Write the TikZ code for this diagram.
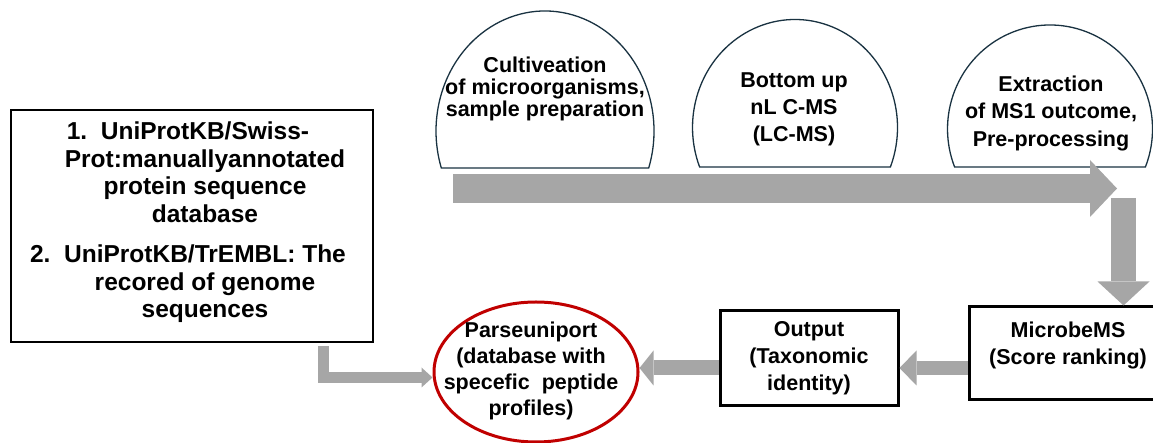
\documentclass[tikz,border=0pt]{standalone}
\usepackage{fontspec}
\setmainfont{Liberation Sans}
\usetikzlibrary{arrows.meta,shapes.geometric}
\definecolor{arrgray}{RGB}{166,166,166}
\definecolor{domeline}{RGB}{25,50,65}
\definecolor{ellred}{RGB}{192,0,0}
\begin{document}
\begin{tikzpicture}[x=1pt,y=1pt,
  arr/.style={draw=arrgray, color=arrgray, line join=miter},
  blk/.style={draw=black, line width=3pt, fill=white},
  dome/.style={draw=domeline, line width=1.3pt, fill=white},
  txt/.style={font=\bfseries\fontsize{21.5}{27}\selectfont, align=center, inner sep=0pt},
]
\useasboundingbox (0,0) rectangle (1153,443);
\clip (0,0) rectangle (1153,443);

% domes
\draw[dome] (545,312) ++(-17.95:109pt and 120pt) arc[start angle=-17.95,end angle=197.95,x radius=109pt,y radius=120pt] -- cycle;
\draw[dome] (795,315.5) ++(-21.46:102.5pt and 108pt) arc[start angle=-21.46,end angle=201.46,x radius=102.5pt,y radius=108pt] -- cycle;
\draw[dome] (1050,314) ++(-21.43:102.5pt and 104pt) arc[start angle=-21.43,end angle=201.43,x radius=102.5pt,y radius=104pt] -- cycle;

\node[txt, font=\bfseries\fontsize{21.5}{22}\selectfont] (cult) at (545,354) {Cultiveation\\of microorganisms,\\sample preparation};
\node[txt] (lcms) at (794,333.5) {Bottom up\\nL C-MS\\(LC-MS)};
\node[txt, font=\bfseries\fontsize{21.5}{27.5}\selectfont] (extr) at (1051,330) {Extraction\\of MS1 outcome,\\Pre-processing};

% timeline arrow
\coordinate (tlA) at (453,254.5);
\coordinate (tlB) at (1117,254.5);
\draw[arr, line width=29pt, -{Triangle[width=57pt,length=27pt,line width=0pt]}] (tlA) -- (tlB);

% boxes
\node[blk, line width=2.5pt, minimum width=362pt, minimum height=232pt] (db) at (192,217) {};
\node[txt, font=\bfseries\fontsize{24.5}{27.5}\selectfont] (dbtext) at (205,220.5)
  {\llap{1.\ \ }UniProtKB/Swiss-\\Prot:manuallyannotated\\protein sequence\\database\\[13pt]\llap{2.\ \ }UniProtKB/TrEMBL: The\\recored of genome\\sequences};

\node[blk, txt, line width=3pt, minimum width=178pt, minimum height=95pt] (output) at (809,84.5) {Output\\(Taxonomic\\identity)};

\node[blk, minimum width=198pt, minimum height=93pt] (micro) at (1068,89.5) {};
\node[txt] (microtext) at (1068,98) {MicrobeMS\\(Score ranking)};

\node[draw=ellred, line width=3pt, ellipse, inner sep=0pt, minimum width=204pt, minimum height=140pt] (pu) at (536,71) {};
\node[txt, font=\bfseries\fontsize{21.5}{26}\selectfont] (putext) at (531,72.5) {Parseuniport\\(database with\\specefic\ \ peptide\\profiles)};

% vertical arrow
\coordinate (vA) at (1123.5,245);
\draw[arr, line width=25pt, -{Triangle[width=52pt,length=24pt,line width=0pt]}] (vA) -- (vA |- micro.north);

% bottom arrows
\coordinate (rowA) at (0,75);
\coordinate (rowC) at (0,65.5);
\draw[arr, line width=14pt, -{Triangle[width=35pt,length=17pt,line width=0pt]}] (micro.west |- rowA) -- (output.east |- rowA);
\draw[arr, line width=15pt, -{Triangle[width=35pt,length=14pt,line width=0pt]}] (output.west |- rowA) -- (pu.east |- rowA);
\coordinate (lA) at (323.5,97);
\draw[arr, line width=11pt, -{Triangle[width=20pt,length=11pt,line width=0pt]}] (lA) |- (pu.west |- rowC);
\end{tikzpicture}
\end{document}
